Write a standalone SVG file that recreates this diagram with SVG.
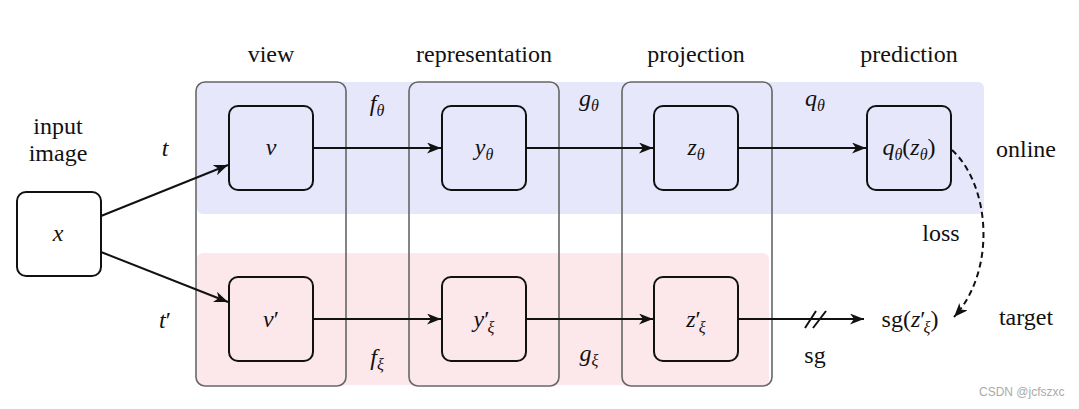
<svg xmlns="http://www.w3.org/2000/svg" width="1079" height="409" viewBox="0 0 1079 409">
<style>
text{font-family:'Liberation Serif','Times New Roman',Tinos,'Noto Serif','DejaVu Serif',Times,serif}
.t{font-size:24px;fill:#111;text-anchor:middle}
.m{font-size:24px;font-style:italic;fill:#111;text-anchor:middle}
.up{font-style:normal}
.s{font-size:16px}
.node{fill:none;stroke:#111;stroke-width:2}
.col{fill:none;stroke:#666;stroke-width:1.6}
.e{fill:none;stroke:#111;stroke-width:2}
text.wm{font-family:'Liberation Sans',Arial,sans-serif;font-size:12px;fill:#aaa}
</style>
<defs>
<marker id="ar" markerUnits="userSpaceOnUse" markerWidth="16" markerHeight="12" refX="14" refY="5.5" orient="auto">
<path d="M0,0 L14,5.5 L0,11 L4,5.5 z" fill="#111"/>
</marker>
</defs>
<rect width="1079" height="409" fill="#fff"/>
<g id="bands">
<rect x="197" y="82" width="787" height="132" rx="6" fill="#e7e7fb"/>
<rect x="197" y="253" width="572" height="132" rx="6" fill="#fce8ea"/>
</g>
<g id="columns">
<rect class="col" x="196" y="82" width="150" height="304" rx="9"/>
<rect class="col" x="409" y="82" width="150" height="304" rx="9"/>
<rect class="col" x="622" y="82" width="150" height="304" rx="9"/>
</g>
<g id="headers">
<text class="t" x="271" y="62">view</text>
<text class="t" x="484" y="62">representation</text>
<text class="t" x="696" y="62">projection</text>
<text class="t" x="909" y="62">prediction</text>
</g>
<g id="node-x"><rect class="node" x="17" y="192" width="84" height="84" rx="9" style="fill:#fff"/><text class="m" x="58" y="241">x</text></g>
<g id="node-v"><rect class="node" x="229" y="106" width="84" height="84" rx="9"/><text class="m" x="271" y="155">v</text></g>
<g id="node-v2"><rect class="node" x="229" y="277" width="84" height="84" rx="9"/><text class="m" x="271" y="327">v<tspan class="up">′</tspan></text></g>
<g id="node-y"><rect class="node" x="442" y="106" width="84" height="84" rx="9"/><text class="m" x="484" y="155">y<tspan class="s" dy="5">θ</tspan></text></g>
<g id="node-y2"><rect class="node" x="442" y="277" width="84" height="84" rx="9"/><text class="m" x="484" y="327">y<tspan class="up">′</tspan><tspan class="s" dx="-2" dy="6">ξ</tspan></text></g>
<g id="node-z"><rect class="node" x="654" y="106" width="84" height="84" rx="9"/><text class="m" x="696" y="155">z<tspan class="s" dy="5">θ</tspan></text></g>
<g id="node-z2"><rect class="node" x="654" y="277" width="84" height="84" rx="9"/><text class="m" x="696" y="327">z<tspan class="up">′</tspan><tspan class="s" dx="-2" dy="6">ξ</tspan></text></g>
<g id="node-q"><rect class="node" x="867" y="106" width="84" height="84" rx="9"/><text class="m" x="909" y="155">q<tspan class="s" dy="5">θ</tspan><tspan class="up" dy="-5">(</tspan>z<tspan class="s" dy="5">θ</tspan><tspan class="up" dy="-5">)</tspan></text></g>
<g id="node-sg"><text class="m" x="910" y="327"><tspan class="up">sg(</tspan>z<tspan class="up">′</tspan><tspan class="s" dx="-2" dy="6">ξ</tspan><tspan class="up" dy="-6">)</tspan></text></g>
<g id="connectors">
<line class="e" x1="101" y1="216" x2="228" y2="165" marker-end="url(#ar)"/>
<line class="e" x1="101" y1="252" x2="228" y2="302" marker-end="url(#ar)"/>
<line class="e" x1="313" y1="148" x2="441" y2="148" marker-end="url(#ar)"/>
<line class="e" x1="526" y1="148" x2="653" y2="148" marker-end="url(#ar)"/>
<line class="e" x1="738" y1="148" x2="866" y2="148" marker-end="url(#ar)"/>
<line class="e" x1="313" y1="319" x2="441" y2="319" marker-end="url(#ar)"/>
<line class="e" x1="526" y1="319" x2="653" y2="319" marker-end="url(#ar)"/>
<line class="e" x1="738" y1="319" x2="864" y2="319" marker-end="url(#ar)"/>
<line class="e" x1="805" y1="328" x2="816" y2="311"/>
<line class="e" x1="813" y1="328" x2="826" y2="311"/>
<path class="e" d="M952,150 C990,185 997,270 954,317" stroke-dasharray="6,4" marker-end="url(#ar)"/>
</g>
<g id="labels">
<text class="t" x="58" y="134">input</text>
<text class="t" x="58" y="161">image</text>
<text class="m" x="165" y="156">t</text>
<text class="m" x="165" y="328">t<tspan class="up">′</tspan></text>
<text class="m" x="377" y="111">f<tspan class="s" dy="5">θ</tspan></text>
<text class="m" x="589" y="106">g<tspan class="s" dy="5">θ</tspan></text>
<text class="m" x="815" y="106">q<tspan class="s" dy="5">θ</tspan></text>
<text class="m" x="377" y="365">f<tspan class="s" dy="5">ξ</tspan></text>
<text class="m" x="589" y="361">g<tspan class="s" dy="5">ξ</tspan></text>
<text class="t" x="815" y="363">sg</text>
<text class="t" x="941" y="241">loss</text>
<text class="t" x="1026" y="157">online</text>
<text class="t" x="1026" y="325">target</text>
</g>
<text class="wm" x="979" y="396">CSDN @jcfszxc</text>
</svg>
